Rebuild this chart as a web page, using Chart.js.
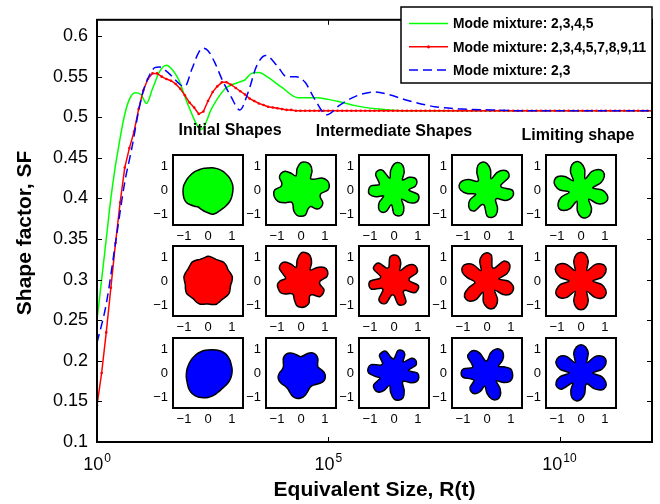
<!DOCTYPE html>
<html>
<head>
<meta charset="utf-8">
<script src="https://cdn.jsdelivr.net/npm/chart.js@4.4.0/dist/chart.umd.min.js"></script>
<style>
  html, body { margin: 0; padding: 0; background: #fff; }
  #wrap { position: relative; width: 660px; height: 504px; }
  #wrap canvas { position: absolute; left: 0; top: 0; }
</style>
</head>
<body>
<div id="wrap">
  <canvas id="main" width="660" height="504"></canvas>
</div>
<script>
// x values are log10 of the equivalent size R(t)
const xTickExps = [0, 5, 10];
const yTicks = [0.1, 0.15, 0.2, 0.25, 0.3, 0.35, 0.4, 0.45, 0.5, 0.55, 0.6];

const greenExp = [0, 0.1, 0.2, 0.3, 0.39, 0.46, 0.55, 0.62, 0.7, 0.82, 0.95, 1.07, 1.2, 1.35, 1.5, 1.62, 1.76, 1.97,
  2.26, 2.48, 2.77, 3.06, 3.2, 3.34, 3.5, 3.7, 3.99, 4.35, 4.75, 5.0, 5.25, 5.6, 6.1, 6.6, 12];
const greenSF = [0.25, 0.30, 0.35, 0.40, 0.437, 0.461, 0.49, 0.508, 0.522, 0.530, 0.528, 0.517, 0.535, 0.556, 0.564, 0.559, 0.547, 0.515,
  0.485, 0.511, 0.535, 0.543, 0.546, 0.554, 0.555, 0.549, 0.537, 0.524, 0.524, 0.522, 0.519, 0.514, 0.510, 0.508, 0.508];

const blueExp = [0, 0.2, 0.4, 0.6, 0.75, 0.9, 1.0, 1.11, 1.25, 1.35, 1.47, 1.61, 1.8, 1.9, 2.05, 2.2, 2.3, 2.4, 2.55, 2.7,
  2.9, 3.09, 3.27, 3.45, 3.65, 3.9, 4.1, 4.3, 4.5, 4.7, 4.97, 5.25, 5.6, 6.0, 6.3, 6.7, 7.3, 7.9, 8.5, 9.2, 12];
const blueSF = [0.222, 0.27, 0.345, 0.42, 0.461, 0.508, 0.532, 0.549, 0.561, 0.562, 0.558, 0.551, 0.540, 0.538, 0.559, 0.580, 0.585, 0.582, 0.567, 0.547,
  0.525, 0.509, 0.531, 0.563, 0.576, 0.563, 0.550, 0.550, 0.543, 0.523, 0.503, 0.515, 0.526, 0.531, 0.528, 0.521, 0.513, 0.510, 0.509, 0.508, 0.508];

// red curve is sampled every 0.1 decade (it carries point markers)
const redStep = 0.1;
const redSF = [
  0.145, 0.185, 0.235, 0.290, 0.345, 0.395, 0.438, 0.462, 0.482, 0.510,
  0.533, 0.547, 0.554, 0.554, 0.550, 0.547, 0.545, 0.541, 0.535, 0.527,
  0.518, 0.512, 0.504, 0.507, 0.520, 0.531, 0.538, 0.543, 0.543, 0.540,
  0.536, 0.532, 0.528, 0.523, 0.520, 0.517, 0.515, 0.513, 0.512, 0.511,
  0.510, 0.509, 0.509, 0.508, 0.508, 0.508, 0.508, 0.508, 0.508, 0.508,
  0.508, 0.508, 0.508, 0.508, 0.508, 0.508, 0.508, 0.508, 0.508, 0.508,
  0.508, 0.508, 0.508, 0.508, 0.508, 0.508, 0.508, 0.508, 0.508, 0.508,
  0.508, 0.508, 0.508, 0.508, 0.508, 0.508, 0.508, 0.508, 0.508, 0.508,
  0.508, 0.508, 0.508, 0.508, 0.508, 0.508, 0.508, 0.508, 0.508, 0.508,
  0.508, 0.508, 0.508, 0.508, 0.508, 0.508, 0.508, 0.508, 0.508, 0.508,
  0.508, 0.508, 0.508, 0.508, 0.508, 0.508, 0.508, 0.508, 0.508, 0.508,
  0.508, 0.508, 0.508, 0.508, 0.508, 0.508, 0.508, 0.508, 0.508, 0.508,
  0.508
];

const legendLabels = ['Mode mixture: 2,3,4,5', 'Mode mixture: 2,3,4,5,7,8,9,11', 'Mode mixture: 2,3'];
const shapeTitles = ['Initial Shapes', 'Intermediate Shapes', 'Limiting shape'];
const insetTicks = [-1, 0, 1];

// inset shapes: radius at 36 angles, clockwise from 12 o'clock, 10 degrees apart
const greenShapes = [
  [0.92, 0.94, 0.96, 0.98, 1.00, 1.01, 1.03, 1.04, 1.05, 1.04, 1.03, 1.03, 1.02, 1.00, 0.99, 0.99, 1.02, 1.03,
   0.95, 0.90, 0.85, 0.82, 0.88, 0.96, 1.04, 1.06, 1.05, 1.04, 1.03, 1.00, 0.98, 0.96, 0.95, 0.93, 0.92, 0.92],
  [1.14, 1.18, 1.12, 0.92, 0.62, 0.70, 1.00, 1.16, 1.20, 1.12, 0.85, 0.85, 1.05, 1.10, 1.04, 0.80, 0.85, 1.06,
   1.10, 1.06, 0.90, 0.68, 0.65, 0.82, 1.02, 1.12, 1.15, 1.10, 0.85, 0.85, 1.04, 1.08, 1.02, 0.80, 0.62, 0.92],
  [1.08, 1.16, 1.08, 0.85, 0.55, 0.82, 1.00, 1.02, 0.90, 0.62, 1.00, 1.10, 1.04, 0.82, 0.50, 0.82, 1.06, 1.10,
   1.00, 0.62, 0.95, 1.06, 1.00, 0.80, 0.50, 0.82, 1.04, 1.06, 0.98, 0.65, 0.75, 1.00, 1.05, 0.95, 0.52, 0.82],
  [1.10, 0.85, 0.50, 0.85, 1.08, 1.15, 1.05, 0.62, 0.62, 1.05, 1.12, 1.05, 0.88, 0.55, 0.55, 0.88, 1.10, 1.16,
   1.08, 0.65, 0.65, 1.00, 1.08, 1.00, 0.82, 0.50, 0.85, 1.10, 1.18, 1.10, 0.88, 0.55, 0.55, 0.85, 1.10, 1.18],
  [1.12, 0.88, 0.50, 0.88, 1.12, 1.20, 1.12, 0.88, 0.50, 0.88, 1.10, 1.18, 1.10, 0.88, 0.50, 0.88, 1.10, 1.18,
   1.12, 0.88, 0.50, 0.88, 1.12, 1.20, 1.10, 0.88, 0.50, 0.88, 1.10, 1.18, 1.12, 0.88, 0.50, 0.88, 1.12, 1.20]
];
const redShapes = [
  [1.03, 1.00, 0.96, 0.98, 1.02, 1.00, 0.96, 0.99, 1.03, 1.00, 0.96, 0.98, 1.02, 1.00, 0.97, 0.99, 1.03, 1.00,
   0.96, 0.98, 1.02, 1.00, 0.96, 0.99, 1.03, 1.00, 0.96, 0.98, 1.02, 1.00, 0.97, 0.99, 1.03, 1.00, 0.96, 0.98],
  [1.16, 1.20, 1.12, 0.88, 0.60, 0.88, 1.12, 1.18, 1.10, 0.80, 0.80, 1.02, 1.06, 1.02, 0.75, 0.72, 0.98, 1.08,
   1.10, 1.04, 0.82, 0.65, 0.68, 0.85, 0.98, 1.00, 1.00, 0.88, 0.65, 0.78, 1.04, 1.10, 1.04, 0.80, 0.60, 0.90],
  [1.08, 1.04, 0.82, 0.50, 0.82, 1.06, 1.10, 1.02, 0.65, 0.65, 1.02, 1.06, 0.98, 0.60, 0.60, 1.00, 1.06, 0.98,
   0.60, 0.60, 1.00, 1.06, 0.98, 0.60, 0.60, 1.00, 1.06, 0.98, 0.60, 0.60, 0.98, 1.04, 0.98, 0.62, 0.62, 1.00],
  [1.18, 1.08, 0.62, 0.62, 1.08, 1.18, 1.10, 0.88, 0.50, 0.88, 1.10, 1.16, 1.10, 0.88, 0.50, 0.88, 1.10, 1.18,
   1.10, 0.88, 0.50, 0.88, 1.10, 1.16, 1.08, 0.80, 0.52, 0.55, 0.85, 1.10, 1.18, 1.10, 0.88, 0.50, 0.88, 1.10],
  [1.20, 1.12, 0.88, 0.50, 0.88, 1.10, 1.18, 1.10, 0.88, 0.50, 0.88, 1.10, 1.18, 1.12, 0.88, 0.50, 0.88, 1.12,
   1.20, 1.12, 0.88, 0.50, 0.88, 1.10, 1.18, 1.10, 0.88, 0.50, 0.88, 1.12, 1.20, 1.12, 0.88, 0.50, 0.88, 1.12]
];
const blueShapes = [
  [0.96, 0.98, 1.02, 1.06, 1.08, 1.08, 1.06, 1.03, 1.02, 1.00, 0.98, 0.95, 0.92, 0.89, 0.88, 0.90, 0.94, 0.98,
   1.02, 1.05, 1.08, 1.09, 1.08, 1.04, 0.98, 0.94, 0.92, 0.90, 0.89, 0.88, 0.88, 0.89, 0.90, 0.92, 0.93, 0.95],
  [0.68, 0.75, 0.88, 0.97, 0.98, 0.92, 0.80, 0.75, 0.85, 0.98, 1.03, 1.00, 0.88, 0.76, 0.70, 0.72, 0.82, 0.95,
   1.04, 1.07, 1.03, 0.93, 0.86, 0.86, 0.92, 0.97, 0.97, 0.90, 0.80, 0.78, 0.85, 0.96, 1.00, 0.96, 0.86, 0.74],
  [0.60, 0.95, 1.00, 0.90, 0.60, 0.95, 1.05, 0.98, 0.62, 0.98, 1.05, 1.02, 0.82, 0.52, 0.55, 0.85, 1.10, 1.15,
   1.08, 0.82, 0.55, 0.85, 1.04, 1.06, 0.98, 0.62, 0.80, 1.06, 1.10, 1.02, 0.65, 0.62, 0.95, 1.00, 0.96, 0.65],
  [0.50, 0.85, 1.06, 1.12, 1.06, 0.85, 0.55, 0.75, 1.00, 1.06, 1.08, 1.02, 0.80, 0.50, 0.85, 1.10, 1.18, 1.10,
   0.85, 0.55, 0.82, 1.00, 1.02, 0.92, 0.62, 0.72, 1.02, 1.08, 1.00, 0.65, 0.72, 1.05, 1.12, 1.08, 0.88, 0.55],
  [1.18, 1.10, 0.88, 0.50, 0.88, 1.10, 1.18, 1.10, 0.88, 0.50, 0.88, 1.10, 1.18, 1.10, 0.85, 0.52, 0.55, 0.88,
   1.10, 1.18, 1.10, 0.85, 0.55, 1.05, 1.16, 1.10, 0.88, 0.50, 0.88, 1.10, 1.16, 1.10, 0.88, 0.50, 0.88, 1.10]
];

const FONT = '"Liberation Sans", Arial, Helvetica, sans-serif';

const mainDecor = {
  id: 'mainDecor',
  beforeDraw(chart) {
    const c = chart.ctx;
    c.save();
    c.fillStyle = '#fff';
    c.fillRect(0, 0, chart.width, chart.height);
    c.restore();
  },
  afterDraw(chart) {
    const c = chart.ctx;
    const a = chart.chartArea;
    const x = chart.scales.x;
    const y = chart.scales.y;
    c.save();
    c.strokeStyle = '#000';

    // box and inward ticks
    c.lineWidth = 1;
    c.beginPath();
    y.ticks.forEach(t => {
      const py = Math.round(y.getPixelForValue(t.value)) + 0.5;
      c.moveTo(a.left, py); c.lineTo(a.left + 5, py);
      c.moveTo(a.right, py); c.lineTo(a.right - 5, py);
    });
    x.ticks.forEach(t => {
      const px = Math.round(x.getPixelForValue(t.value)) + 0.5;
      c.moveTo(px, a.bottom); c.lineTo(px, a.bottom - 5);
      c.moveTo(px, a.top); c.lineTo(px, a.top + 5);
    });
    c.stroke();
    c.lineWidth = 2;
    c.strokeRect(a.left, a.top, a.right - a.left, a.bottom - a.top);

    // x tick labels 10^n
    c.fillStyle = '#000';
    c.textBaseline = 'alphabetic';
    c.textAlign = 'left';
    x.ticks.forEach(t => {
      const px = x.getPixelForValue(t.value);
      const exp = String(t.value);
      c.font = '18px ' + FONT;
      const wb = c.measureText('10').width;
      c.font = '12px ' + FONT;
      const we = c.measureText(exp).width;
      const x0 = px - (wb + we + 1) / 2;
      c.font = '18px ' + FONT;
      c.fillText('10', x0, 470);
      c.font = '12px ' + FONT;
      c.fillText(exp, x0 + wb + 1, 462);
    });

    // axis titles
    c.font = 'bold 21px ' + FONT;
    c.textAlign = 'center';
    c.textBaseline = 'middle';
    c.fillText('Equivalent Size, R(t)', (a.left + a.right) / 2, 490);
    c.save();
    c.translate(25, (a.top + a.bottom) / 2 + 2);
    c.rotate(-Math.PI / 2);
    c.fillText('Shape factor, SF', 0, 0);
    c.restore();

    // group titles above the insets
    c.font = 'bold 16px ' + FONT;
    const titlePos = [[230, 131], [394, 132], [578, 136]];
    shapeTitles.forEach((s, i) => c.fillText(s, titlePos[i][0], titlePos[i][1]));

    // legend
    const L = 401, T = 7, R = a.right, B = 83;
    c.fillStyle = '#fff';
    c.fillRect(L, T, R - L, B - T);
    c.lineWidth = 1.5;
    c.strokeRect(L, T, R - L, B - T);
    c.font = 'bold 13.8px ' + FONT;
    c.textAlign = 'left';
    chart.data.datasets.forEach((ds, i) => {
      const ry = T + 16.5 + i * 23.3;
      c.save();
      c.strokeStyle = ds.borderColor;
      c.lineWidth = ds.borderWidth;
      c.setLineDash(ds.borderDash || []);
      c.beginPath();
      c.moveTo(409, ry); c.lineTo(448, ry);
      c.stroke();
      if (ds.pointRadius > 0) {
        c.fillStyle = ds.borderColor;
        c.beginPath();
        c.arc(428.5, ry, 1.6, 0, Math.PI * 2);
        c.fill();
      }
      c.restore();
      c.fillStyle = '#000';
      c.fillText(ds.label, 453, ry + 1);
    });
    c.restore();
  }
};

new Chart(document.getElementById('main'), {
  type: 'line',
  data: {
    datasets: [
      {
        label: legendLabels[0],
        data: greenExp.map((v, i) => ({ x: v, y: greenSF[i] })),
        borderColor: '#00ff00',
        borderWidth: 1.5,
        pointRadius: 0,
        cubicInterpolationMode: 'monotone',
        order: 3
      },
      {
        label: legendLabels[1],
        data: redSF.map((v, i) => ({ x: i * redStep, y: v })),
        borderColor: '#ff0000',
        borderWidth: 1.5,
        pointRadius: 1.3,
        pointBackgroundColor: '#ff0000',
        pointBorderWidth: 0,
        order: 2
      },
      {
        label: legendLabels[2],
        data: blueExp.map((v, i) => ({ x: v, y: blueSF[i] })),
        borderColor: '#0000ff',
        borderWidth: 1.5,
        borderDash: [9, 5],
        pointRadius: 0,
        cubicInterpolationMode: 'monotone',
        order: 1
      }
    ]
  },
  options: {
    responsive: false,
    animation: false,
    layout: { padding: { left: 0, top: 7, right: 8, bottom: 0 } },
    plugins: { legend: { display: false }, tooltip: { enabled: false } },
    scales: {
      x: {
        type: 'linear',
        min: 0,
        max: 12,
        grid: { display: false, drawTicks: false },
        border: { display: false },
        ticks: { display: false },
        afterBuildTicks: s => { s.ticks = xTickExps.map(v => ({ value: v })); },
        afterFit: s => { s.height = 62; }
      },
      y: {
        min: 0.1,
        max: 0.62,
        grid: { display: false, drawTicks: false },
        border: { display: false },
        ticks: {
          color: '#000',
          padding: 9,
          font: { family: FONT, size: 18 },
          callback: v => String(+v.toFixed(2))
        },
        afterBuildTicks: s => { s.ticks = yTicks.map(v => ({ value: v })); },
        afterFit: s => { s.width = 97; }
      }
    }
  },
  plugins: [mainDecor]
});

// small shape plots
const insetFrame = {
  id: 'insetFrame',
  beforeDatasetsDraw(chart) {
    const a = chart.chartArea;
    const c = chart.ctx;
    c.save();
    c.fillStyle = '#fff';
    c.fillRect(a.left, a.top, a.right - a.left, a.bottom - a.top);
    c.restore();
  },
  afterDraw(chart) {
    const a = chart.chartArea;
    const c = chart.ctx;
    const r = chart.scales.r;
    c.save();
    c.strokeStyle = '#000';
    c.lineWidth = 2;
    c.strokeRect(a.left, a.top, a.right - a.left, a.bottom - a.top);
    c.fillStyle = '#000';
    c.font = '13px ' + FONT;
    insetTicks.forEach(v => {
      const d = Math.sign(v) * r.getDistanceFromCenterForValue(Math.abs(v));
      const label = v < 0 ? '\u2212' + Math.abs(v) : String(v);
      c.textAlign = 'center';
      c.textBaseline = 'top';
      c.fillText(label, r.xCenter + d, a.bottom + 5);
      c.textAlign = 'right';
      c.textBaseline = 'middle';
      c.fillText(label, a.left - 5, r.yCenter - d);
    });
    c.restore();
  }
};

const insetColors = ['#00ff00', '#ff0000', '#0000ff'];
const insetRows = [greenShapes, redShapes, blueShapes];
const boxLeft = [173, 266, 359, 452, 546];
const boxTop = [155, 246, 338];
const BOX = 70, PADL = 30, PADT = 4, PADR = 4, PADB = 24;
const wrap = document.getElementById('wrap');

insetRows.forEach((row, ri) => {
  row.forEach((radii, ci) => {
    const cv = document.createElement('canvas');
    cv.width = PADL + BOX + PADR;
    cv.height = PADT + BOX + PADB;
    cv.style.left = (boxLeft[ci] - PADL) + 'px';
    cv.style.top = (boxTop[ri] - PADT) + 'px';
    wrap.appendChild(cv);
    new Chart(cv, {
      type: 'radar',
      data: {
        labels: radii.map(() => ''),
        datasets: [{
          data: radii,
          backgroundColor: insetColors[ri],
          borderColor: '#000',
          borderWidth: 1.5,
          pointRadius: 0,
          fill: true,
          tension: 0.3
        }]
      },
      options: {
        responsive: false,
        animation: false,
        layout: { padding: { left: PADL, top: PADT, right: PADR, bottom: PADB } },
        plugins: { legend: { display: false }, tooltip: { enabled: false } },
        scales: {
          r: {
            min: 0,
            max: 1.46,
            ticks: { display: false },
            grid: { display: false },
            angleLines: { display: false },
            pointLabels: { display: false }
          }
        }
      },
      plugins: [insetFrame]
    });
  });
});
</script>
</body>
</html>
